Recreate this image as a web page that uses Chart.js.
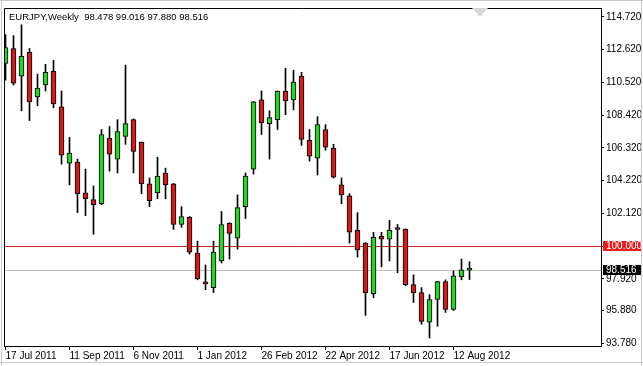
<!DOCTYPE html>
<html lang="en">
  <head>
    <meta charset="UTF-8" />
    <title>EURJPY Weekly</title>
    <script src="https://cdn.jsdelivr.net/npm/chart.js"></script>
    <style>
      html, body { margin: 0; padding: 0; background: #fff; }
      #wrap { width: 643px; height: 366px; }
    </style>
  </head>
  <body>
    <div id="wrap"><canvas id="candleChart" width="643" height="366"></canvas></div>

    <script>
      // weekly EURJPY, one entry per week starting 17 Jul 2011
      const opens = [111.74, 112.69, 110.92, 112.44, 109.59, 110.35, 111.23, 108.95, 105.34, 105.41,
        103.44, 103.00, 102.74, 106.93, 105.60, 107.05, 108.13, 106.67, 104.01, 103.44,
        104.71, 104.01, 101.41, 101.86, 99.58, 97.62, 97.36, 99.07, 101.48, 100.53,
        102.55, 104.96, 109.40, 107.88, 108.13, 109.97, 109.40, 110.92, 106.80, 105.66,
        107.50, 106.29, 103.95, 103.25, 101.03, 100.21, 96.98, 100.65, 100.46, 101.11,
        101.10, 97.55, 97.04, 95.14, 96.60, 97.74, 95.96, 98.05, 98.478];
      const highs = [113.58, 113.52, 114.21, 112.69, 111.05, 111.68, 111.93, 109.97, 106.99, 105.60,
        104.96, 103.88, 107.50, 107.69, 108.13, 111.62, 108.18, 106.70, 104.39, 105.72,
        105.02, 104.04, 102.55, 101.92, 100.34, 98.81, 100.34, 102.24, 101.52, 103.31,
        104.71, 109.30, 109.97, 108.70, 109.97, 111.42, 111.30, 111.17, 107.50, 108.32,
        107.81, 106.55, 104.39, 103.38, 102.17, 100.24, 100.91, 100.91, 101.67, 101.41,
        101.13, 98.18, 97.36, 96.91, 97.77, 97.86, 98.43, 99.19, 99.016];
      const lows = [110.66, 110.35, 108.70, 108.07, 109.02, 109.97, 108.89, 105.28, 103.95, 102.17,
        101.98, 100.78, 102.68, 104.83, 104.71, 106.55, 104.71, 103.38, 102.55, 103.06,
        103.06, 101.10, 101.22, 99.51, 97.86, 97.23, 97.04, 98.94, 99.19, 99.83,
        101.79, 104.64, 107.18, 105.60, 107.50, 108.45, 108.76, 106.48, 105.47, 104.58,
        106.17, 104.39, 102.74, 100.21, 99.32, 95.58, 96.72, 98.69, 99.07, 98.31,
        97.48, 96.41, 95.01, 94.13, 94.89, 95.77, 95.90, 97.86, 97.880];
      const closes = [112.76, 110.47, 112.19, 109.27, 110.16, 111.17, 109.14, 105.85, 105.98, 103.38,
        103.06, 102.68, 107.18, 105.91, 107.37, 107.88, 106.10, 104.01, 102.93, 104.52,
        103.95, 101.41, 101.92, 99.64, 97.93, 97.60, 99.64, 101.41, 100.84, 102.49,
        104.52, 109.27, 107.94, 108.26, 109.97, 109.33, 110.54, 106.86, 105.79, 107.81,
        106.36, 104.45, 103.31, 100.91, 99.77, 97.04, 100.59, 100.46, 101.03, 101.09,
        97.55, 97.04, 95.20, 96.60, 97.74, 95.96, 98.12, 98.50, 98.516];

      // x axis date labels (week index -> label)
      const dateTickIdx = [0, 8, 16, 24, 32, 40, 48, 56];
      const dateTickLabels = ["17 Jul 2011", "11 Sep 2011", "6 Nov 2011", "1 Jan 2012",
        "26 Feb 2012", "22 Apr 2012", "17 Jun 2012", "12 Aug 2012"];
      // price axis labels
      const priceTicks = [93.78, 95.88, 97.92, 100.02, 102.12, 104.22, 106.32, 108.42, 110.52, 112.62, 114.72];
      const levelLine = 100.0;
      const symbolName = "EURJPY,Weekly";

      const FONT = { family: "Liberation Sans, Arial, sans-serif", size: 10 };
      const BULL = "#2fcf2f";
      const BEAR = "#c91f1f";

      const bodies = opens.map((o, i) => ({ x: i, y: [o, closes[i]] }));
      const wicks = lows.map((l, i) => ({ x: i, y: [l, highs[i]] }));
      const bodyColors = opens.map((o, i) => (closes[i] >= o ? BULL : BEAR));

      // frame, level lines, price boxes, title
      const decorPlugin = {
        id: "decor",
        beforeDatasetsDraw(chart) {
          const { ctx, chartArea: a, scales } = chart;
          const y = scales.y;
          ctx.save();
          ctx.lineWidth = 1;
          // level line at 100
          let py = Math.round(y.getPixelForValue(levelLine)) + 0.5;
          ctx.strokeStyle = "#d42020";
          ctx.beginPath();
          ctx.moveTo(a.left, py);
          ctx.lineTo(a.right, py);
          ctx.stroke();
          // bid line
          py = Math.round(y.getPixelForValue(closes[closes.length - 1])) + 0.5;
          ctx.strokeStyle = "#c0c0c0";
          ctx.beginPath();
          ctx.moveTo(a.left, py);
          ctx.lineTo(a.right, py);
          ctx.stroke();
          ctx.restore();
        },
        afterDraw(chart) {
          const { ctx, chartArea: a, scales, width, height } = chart;
          const y = scales.y;
          ctx.save();
          ctx.lineWidth = 1;
          // outer light frame
          ctx.strokeStyle = "#c8c8c8";
          ctx.beginPath();
          ctx.moveTo(0, 0.5); ctx.lineTo(width, 0.5);
          ctx.moveTo(1.5, 0); ctx.lineTo(1.5, height);
          ctx.moveTo(width - 1.5, 0); ctx.lineTo(width - 1.5, height);
          ctx.moveTo(0, height - 3.5); ctx.lineTo(width, height - 3.5);
          ctx.stroke();
          // plot frame (left + top)
          ctx.strokeStyle = "#000";
          ctx.beginPath();
          ctx.moveTo(a.left + 0.5, a.bottom);
          ctx.lineTo(a.left + 0.5, a.top + 0.5);
          ctx.lineTo(a.right, a.top + 0.5);
          ctx.stroke();

          // chart shift marker
          ctx.fillStyle = "#d8d8d8";
          ctx.beginPath();
          ctx.moveTo(a.left + 468, a.top);
          ctx.lineTo(a.left + 484, a.top);
          ctx.lineTo(a.left + 476, a.top + 9);
          ctx.closePath();
          ctx.fill();

          // price boxes on the axis
          ctx.font = FONT.size + "px " + FONT.family;
          ctx.textBaseline = "middle";
          ctx.textAlign = "left";
          const boxes = [
            { v: levelLine, bg: "#e41f1f", txt: levelLine.toFixed(3) },
            { v: closes[closes.length - 1], bg: "#000", txt: closes[closes.length - 1].toFixed(3) },
          ];
          boxes.forEach((b) => {
            const py = Math.round(y.getPixelForValue(b.v));
            ctx.fillStyle = b.bg;
            ctx.fillRect(a.right + 2, py - 5, width - a.right - 4, 10);
            ctx.fillStyle = "#fff";
            ctx.fillText(b.txt, a.right + 5, py);
          });

          // title
          const n = opens.length - 1;
          const title = symbolName + "  " + [opens[n], highs[n], lows[n], closes[n]].map((v) => v.toFixed(3)).join(" ");
          ctx.font = "9.5px " + FONT.family;
          ctx.fillStyle = "#000";
          ctx.fillText(title, a.left + 5, a.top + 9);
          ctx.restore();
        },
      };

      const ctx = document.getElementById("candleChart").getContext("2d");
      new Chart(ctx, {
        type: "bar",
        data: {
          datasets: [
            {
              label: "body",
              data: bodies,
              backgroundColor: bodyColors,
              borderColor: "#000",
              borderWidth: 1,
              borderSkipped: false,
              barThickness: 5,
              minBarLength: 2,
              grouped: false,
            },
            {
              label: "wick",
              data: wicks,
              backgroundColor: "#000",
              borderWidth: 0,
              barThickness: 1,
              grouped: false,
            },
          ],
        },
        options: {
          responsive: false,
          animation: false,
          events: [],
          layout: { padding: { left: 4, top: 4, right: 0, bottom: 0 } },
          plugins: {
            legend: { display: false },
            tooltip: { enabled: false },
          },
          scales: {
            x: {
              type: "linear",
              offset: false,
              min: -0.1875,
              max: 74.4375,
              afterBuildTicks: (scale) => {
                scale.ticks = dateTickIdx.map((v) => ({ value: v }));
              },
              afterFit: (scale) => {
                scale.height = 20;
              },
              ticks: {
                autoSkip: false,
                maxRotation: 0,
                align: "start",
                padding: 0,
                color: "#000",
                font: FONT,
                callback: (value, index) => dateTickLabels[index],
              },
              grid: { offset: false, drawOnChartArea: false, drawTicks: true, tickLength: 4, color: "#000" },
              border: { display: true, color: "#000" },
            },
            y: {
              position: "right",
              min: 93.617,
              max: 115.29,
              afterBuildTicks: (scale) => {
                scale.ticks = priceTicks.map((v) => ({ value: v }));
              },
              afterFit: (scale) => {
                scale.width = 42;
              },
              ticks: {
                padding: 2,
                color: "#000",
                font: FONT,
                callback: (value) => Number(value).toFixed(3),
              },
              grid: { drawOnChartArea: false, drawTicks: true, tickLength: 3, color: "#000" },
              border: { display: true, color: "#000" },
            },
          },
        },
        plugins: [decorPlugin],
      });
    </script>
  </body>
</html>
